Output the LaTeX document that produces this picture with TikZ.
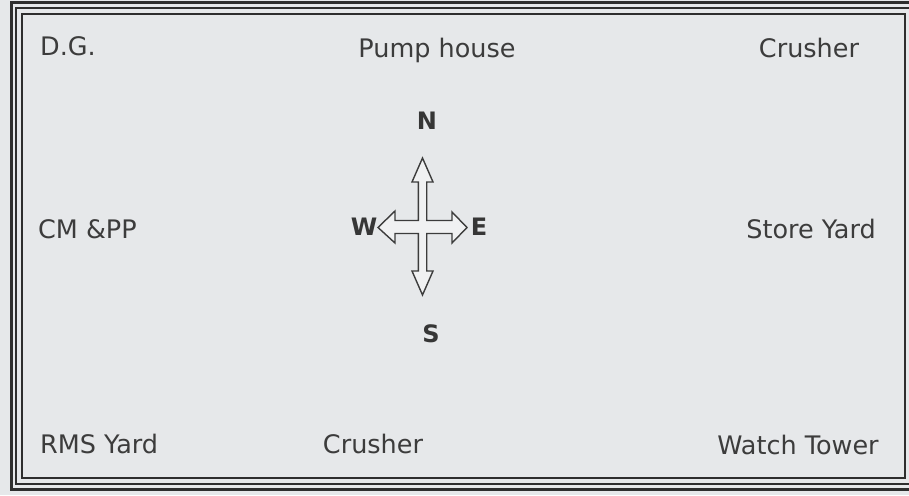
\documentclass[tikz,border=0pt]{standalone}
\usepackage{fontspec}
\setmainfont{DejaVu Sans}
\definecolor{bg}{HTML}{E6E8EA}
\definecolor{ink}{HTML}{3C3C3C}
\definecolor{frame}{HTML}{2E2E2E}
\begin{document}
\begin{tikzpicture}[x=1pt,y=-1pt,
  lbl/.style={inner sep=0pt,text=ink,font=\fontsize{25.5}{30}\selectfont},
  dir/.style={inner sep=0pt,text=ink!90!black,font=\fontsize{24}{28}\selectfont\bfseries},
  frameline/.style={draw=frame},
  compass/.style={draw=ink,line width=1.4pt,fill=bg!60!white,line join=miter}]
\useasboundingbox (0,0) rectangle (909,495);
\fill[bg] (0,0) rectangle (909,495);
% triple frame
\draw[frameline,line width=3pt] (11,3) rectangle (914,489);
\draw[frameline,line width=2.4pt] (16,8) rectangle (910,484);
\draw[frameline,line width=1.2pt] (22,14) rectangle (905,478);
% labels
\node[lbl,anchor=base west] (dg) at (40,56) {D.G.};
\node[lbl,anchor=base] (pump) at (437,57) {Pump house};
\node[lbl,anchor=base] (crushtop) at (809,57) {Crusher};
\node[lbl,anchor=base west] (cmpp) at (38,238) {CM \&PP};
\node[lbl,anchor=base east] (store) at (876,238) {Store Yard};
\node[lbl,anchor=base west] (rms) at (40,453) {RMS Yard};
\node[lbl,anchor=base] (crushbot) at (373,453) {Crusher};
\node[lbl,anchor=base] (watch) at (798,454) {Watch Tower};
% compass
\coordinate (cc) at (422.5,227);
\draw[compass] (422.5,158) -- (433,182) -- (426.7,182) -- (426.7,220.5) -- (452,220.5) -- (452,212)
  -- (467,227.5) -- (452,243) -- (452,233.5) -- (426.7,233.5) -- (426.7,271) -- (433,271)
  -- (422.5,295) -- (412,271) -- (418.3,271) -- (418.3,233.5) -- (395,233.5) -- (395,243)
  -- (378,227.5) -- (395,211) -- (395,220.5) -- (418.3,220.5) -- (418.3,182) -- (412,182) -- cycle;
\node[dir] (n) at (427,121) {N};
\node[dir] (w) at (364,227) {W};
\node[dir] (e) at (479,227) {E};
\node[dir] (s) at (431,334) {S};
\end{tikzpicture}
\end{document}
